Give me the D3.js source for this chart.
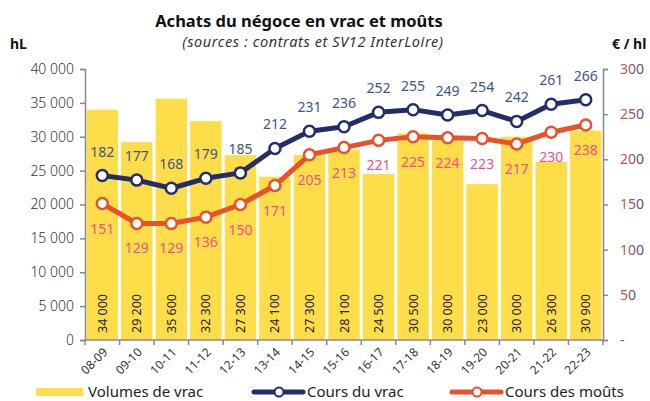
<!DOCTYPE html>
<html>
<head>
<meta charset="utf-8">
<script src="https://cdn.jsdelivr.net/npm/d3@7"></script>
<style>
  body { margin: 0; background: #fff; }
  text { font-family: "Noto Sans", "Open Sans", sans-serif; }
</style>
</head>
<body>
<svg id="chart" width="650" height="401"></svg>
<script>
const campagnes = ["08-09","09-10","10-11","11-12","12-13","13-14","14-15","15-16","16-17","17-18","18-19","19-20","20-21","21-22","22-23"];
const volumesVrac = [34000,29200,35600,32300,27300,24100,27300,28100,24500,30500,30000,23000,30000,26300,30900];
const coursVrac = [182,177,168,179,185,212,231,236,252,255,249,254,242,261,266];
const coursMouts = [151,129,129,136,150,171,205,213,221,225,224,223,217,230,238];
const volTicks = [0,5000,10000,15000,20000,25000,30000,35000,40000];
const prixTicks = [0,50,100,150,200,250,300];

const svg = d3.select("#chart");
const plotLeft = 85, plotRight = 603, plotTop = 69, plotBottom = 340;
const fr = d3.formatLocale({ thousands: "\u00a0", grouping: [3], decimal: ",", currency: ["", "€"] });
const fmt = fr.format(",d");

const x = d3.scaleBand().domain(campagnes).range([plotLeft, plotRight]).paddingInner(0.09).paddingOuter(0.045);
const yVol = d3.scaleLinear().domain([0, 40000]).range([plotBottom, plotTop]);
const yPrix = d3.scaleLinear().domain([0, 300]).range([plotBottom, plotTop]);

const defs = svg.append("defs");
const grad = defs.append("linearGradient").attr("id", "tickgrad")
    .attr("x1", 0).attr("x2", 1).attr("y1", 0).attr("y2", 0);
grad.append("stop").attr("offset", "0%").attr("stop-color", "#f2553a");
grad.append("stop").attr("offset", "100%").attr("stop-color", "#3d4f85");

// titles
svg.append("text").attr("x", 299).attr("y", 27).attr("text-anchor", "middle")
    .style("font-size", "16.5px").style("font-weight", "bold").attr("fill", "#111")
    .text("Achats du négoce en vrac et moûts");
svg.append("text").attr("x", 313).attr("y", 47).attr("text-anchor", "middle")
    .style("font-size", "14.5px").style("font-style", "italic").style("letter-spacing", "0.6px").attr("fill", "#333")
    .text("(sources : contrats et SV12 InterLoire)");
svg.append("text").attr("x", 10).attr("y", 49)
    .style("font-size", "14px").style("font-weight", "bold").attr("fill", "#111").text("hL");
svg.append("text").attr("x", 612).attr("y", 49)
    .style("font-size", "14px").style("font-weight", "bold").attr("fill", "#111").text("€ / hl");

// bars
svg.append("g").selectAll("rect").data(volumesVrac).enter().append("rect")
    .attr("x", (d, i) => x(campagnes[i]))
    .attr("width", x.bandwidth())
    .attr("y", d => yVol(d))
    .attr("height", d => yVol(0) - yVol(d))
    .attr("fill", "#fedd4b");

svg.append("g").selectAll("text").data(volumesVrac).enter().append("text")
    .attr("transform", (d, i) => `translate(${x(campagnes[i]) + x.bandwidth() / 2 + 4.5},${plotBottom - 7}) rotate(-90)`)
    .style("font-size", "12.5px").attr("fill", "#222")
    .text(d => fmt(d));

// left axis
const axL = svg.append("g").attr("transform", `translate(${plotLeft},0)`)
    .call(d3.axisLeft(yVol).tickValues(volTicks).tickFormat(fmt).tickSize(5).tickPadding(6));
axL.select(".domain").attr("stroke", "#888").attr("stroke-width", 1.5);
axL.selectAll(".tick line").attr("stroke", "#888").attr("stroke-width", 1.5);
axL.selectAll(".tick text").style("font-size", "14px").attr("fill", "#333")
    .style("font-family", "'Noto Sans', sans-serif").style("font-weight", 300);

// right axis
const axR = svg.append("g").attr("transform", `translate(${plotRight},0)`)
    .call(d3.axisRight(yPrix).tickValues(prixTicks).tickFormat(d => d === 0 ? "-" : d).tickSize(5).tickPadding(12));
axR.select(".domain").attr("stroke", "#888").attr("stroke-width", 1.5);
axR.selectAll(".tick line").attr("stroke", "#888").attr("stroke-width", 1.5);
axR.selectAll(".tick text").style("font-size", "14px").attr("fill", "url(#tickgrad)")
    .style("font-family", "'Noto Sans', sans-serif");

// bottom axis
const xb = svg.append("g").attr("transform", `translate(0,${plotBottom})`);
xb.append("line").attr("x1", plotLeft).attr("x2", plotRight).attr("stroke", "#888").attr("stroke-width", 1.5);
const step = x.step();
const boundaries = d3.range(campagnes.length + 1).map(i => x(campagnes[0]) - x.paddingInner() * step / 2 + i * step);
xb.selectAll(".tk").data(boundaries).enter().append("line")
    .attr("x1", d => d).attr("x2", d => d).attr("y1", 0).attr("y2", 5)
    .attr("stroke", "#888").attr("stroke-width", 1.5);
xb.selectAll(".lbl").data(campagnes).enter().append("text")
    .attr("transform", d => `translate(${x(d) + x.bandwidth() / 2 + 6},${13}) rotate(-45)`)
    .attr("text-anchor", "end")
    .style("font-size", "12px").attr("fill", "#333")
    .text(d => d);

// lines
const lineGen = d3.line().x((d, i) => x(campagnes[i]) + x.bandwidth() / 2).y(d => yPrix(d));
function drawSeries(values, color, labelColor, dy) {
    svg.append("path").datum(values).attr("d", lineGen)
        .attr("fill", "none").attr("stroke", color).attr("stroke-width", 5).attr("stroke-linejoin", "round");
    svg.append("g").selectAll("circle").data(values).enter().append("circle")
        .attr("cx", (d, i) => x(campagnes[i]) + x.bandwidth() / 2)
        .attr("cy", d => yPrix(d))
        .attr("r", 5.5).attr("fill", "#fff").attr("stroke", color).attr("stroke-width", 2.5);
    svg.append("g").selectAll("text").data(values).enter().append("text")
        .attr("x", (d, i) => x(campagnes[i]) + x.bandwidth() / 2)
        .attr("y", d => yPrix(d) + dy)
        .attr("text-anchor", "middle")
        .style("font-size", "14px").attr("fill", labelColor)
        .text(d => d);
}
drawSeries(coursMouts, "#e9512a", "#f0508c", 30);
drawSeries(coursVrac, "#232d6c", "#3b5688", -19);

// legend
const lg = svg.append("g");
lg.append("rect").attr("x", 36).attr("y", 388).attr("width", 47).attr("height", 8).attr("fill", "#fedd4b");
lg.append("text").attr("x", 88).attr("y", 397).style("font-size", "15px").attr("fill", "#222").text("Volumes de vrac");
[[254, "#232d6c", "Cours du vrac"], [452, "#e9512a", "Cours des moûts"]].forEach(([lx, c, t]) => {
    lg.append("line").attr("x1", lx).attr("x2", lx + 49).attr("y1", 392).attr("y2", 392)
        .attr("stroke", c).attr("stroke-width", 5).attr("stroke-linecap", "round");
    lg.append("circle").attr("cx", lx + 25).attr("cy", 392).attr("r", 4.5)
        .attr("fill", "#fff").attr("stroke", c).attr("stroke-width", 2);
    lg.append("text").attr("x", lx + 53).attr("y", 397).style("font-size", "15px").attr("fill", "#222").text(t);
});
</script>
</body>
</html>
